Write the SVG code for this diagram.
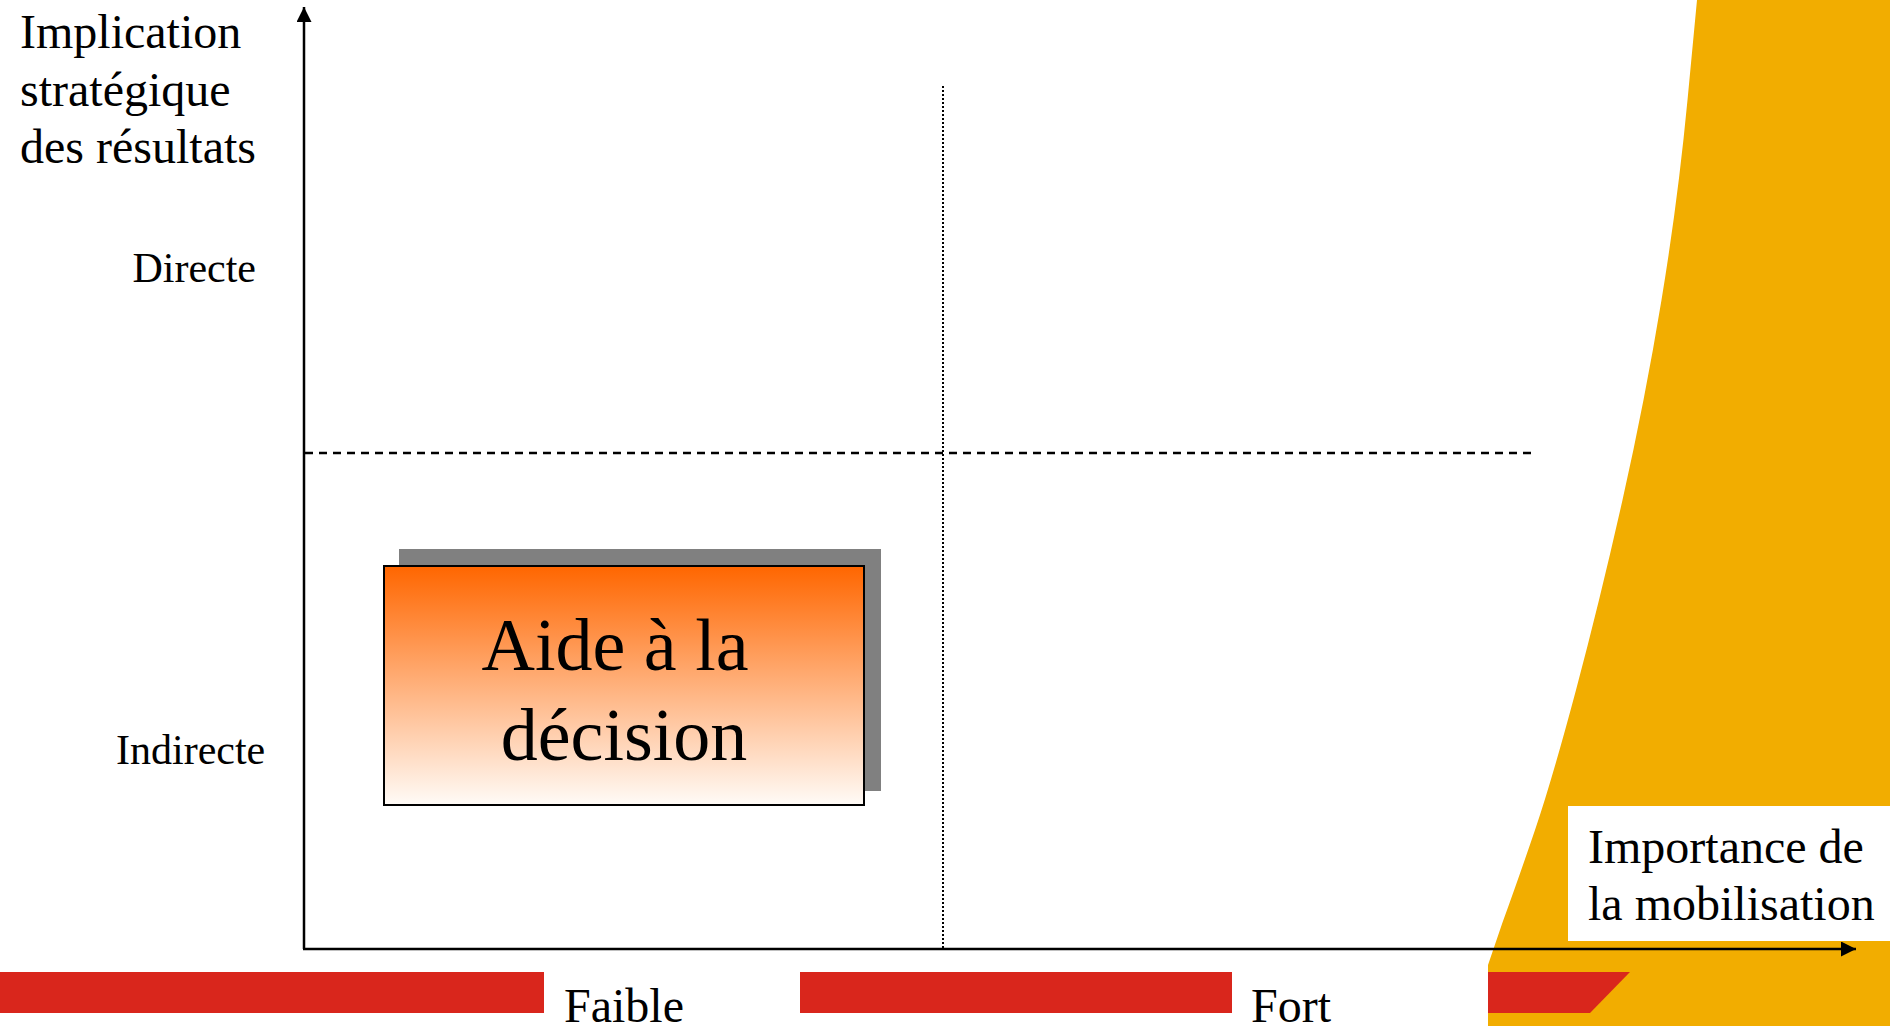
<svg xmlns="http://www.w3.org/2000/svg" width="1890" height="1026" viewBox="0 0 1890 1026">
  <style>
    .t { font-family: "Liberation Serif", "Times New Roman", serif; fill: #000; }
    .big { font-size: 48px; }
    .mid { font-size: 42px; }
    .box { font-size: 74px; }
    .bar { fill: #D9261C; }
    .axis { stroke: #000; stroke-width: 2.5; fill: none; }
  </style>
  <defs>
    <marker id="arrow" markerUnits="userSpaceOnUse" markerWidth="16" markerHeight="16" refX="15" refY="7.5" orient="auto">
      <path d="M0,0 L15,7.5 L0,15 z" fill="#000"/>
    </marker>
    <linearGradient id="grad" x1="0" y1="0" x2="0" y2="1">
      <stop offset="0" stop-color="#FF6600"/>
      <stop offset="1" stop-color="#FFFBF7"/>
    </linearGradient>
  </defs>
  <rect width="1890" height="1026" fill="#FFFFFF"/>
  <g id="background">
    <path d="M1697,0 L1890,0 L1890,1026 L1488,1026 L1488,965 L1502.5,922.5 Q1518,880 1535,830 Q1552,780 1576,690 Q1600,600 1622.5,500 Q1645,400 1661.5,300 Q1678,200 1687.5,100 Z" fill="#F2AD00"/>
    <rect class="bar" x="0" y="972" width="544" height="41"/>
    <rect class="bar" x="800" y="972" width="432" height="41"/>
    <path class="bar" d="M1488,972 L1630,972 L1590,1013 L1488,1013 Z"/>
  </g>
  <g id="connectors">
    <line class="axis" x1="304" y1="949" x2="304" y2="7" marker-end="url(#arrow)"/>
    <line class="axis" x1="303" y1="949" x2="1856" y2="949" marker-end="url(#arrow)"/>
    <line x1="305" y1="453" x2="1536" y2="453" stroke="#000" stroke-width="2.5" stroke-dasharray="8,6"/>
    <line x1="943" y1="86" x2="943" y2="948" stroke="#000" stroke-width="2" stroke-dasharray="2,2"/>
  </g>
  <g id="y-axis-label">
    <text class="t big" x="20" y="48">Implication</text>
    <text class="t big" x="20" y="105.5">stratégique</text>
    <text class="t big" x="20" y="163">des résultats</text>
  </g>
  <g id="label-directe">
    <text class="t mid" x="256" y="282" text-anchor="end">Directe</text>
  </g>
  <g id="label-indirecte">
    <text class="t mid" x="116" y="764">Indirecte</text>
  </g>
  <g id="x-axis-label">
    <rect x="1568" y="806" width="322" height="135" fill="#FFFFFF"/>
    <text class="t big" x="1588" y="863">Importance de</text>
    <text class="t big" x="1588" y="920">la mobilisation</text>
  </g>
  <g id="label-faible">
    <text class="t big" x="564" y="1022">Faible</text>
  </g>
  <g id="label-fort">
    <text class="t big" x="1251" y="1022">Fort</text>
  </g>
  <g id="node-aide">
    <rect x="399" y="549" width="482" height="242" fill="#808080"/>
    <rect x="384" y="566" width="480" height="239" fill="url(#grad)" stroke="#000" stroke-width="2"/>
    <text class="t box" x="615" y="670" text-anchor="middle">Aide à la</text>
    <text class="t box" x="624" y="760" text-anchor="middle">décision</text>
  </g>
</svg>
